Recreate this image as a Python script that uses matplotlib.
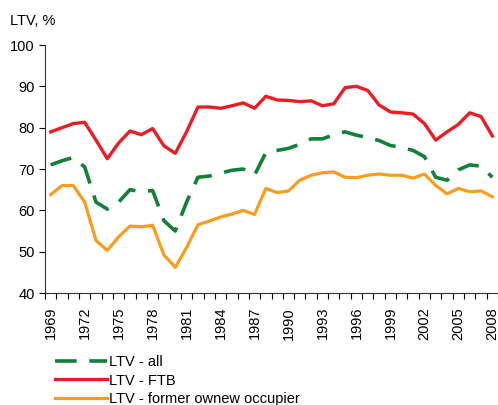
import matplotlib
matplotlib.use("Agg")
import matplotlib.pyplot as plt

plt.rcParams['font.family'] = ['Liberation Sans', 'DejaVu Sans']

years = list(range(1969, 2009))

ltv_all = [71, 72, 72.8, 70.5, 62, 60.3, 62, 65, 64.5, 64.8,
           57.5, 55, 62, 68, 68.3, 69, 69.7, 70, 68.5, 74,
           74.5, 75, 76, 77.3, 77.3, 78.3, 79, 78.2, 77.6, 76.9,
           75.7, 75.2, 74.5, 73, 68, 67.3, 69.8, 71, 70.7, 68]

ltv_ftb = [79, 80, 81, 81.3, 77, 72.5, 76.3, 79.2, 78.3, 79.8,
           75.6, 73.8, 79, 85, 85, 84.7, 85.3, 86, 84.7, 87.6,
           86.7, 86.6, 86.3, 86.5, 85.3, 85.8, 89.7, 90, 89, 85.5,
           83.8, 83.6, 83.3, 81, 77, 79, 80.8, 83.6, 82.7, 78]

ltv_former = [63.8, 66, 66, 62, 52.7, 50.3, 53.6, 56.2, 56, 56.4,
              49.2, 46.2, 51, 56.5, 57.4, 58.4, 59.1, 60, 59, 65.3,
              64.3, 64.7, 67.3, 68.5, 69.1, 69.3, 68, 67.9, 68.5, 68.8,
              68.5, 68.5, 67.8, 68.8, 66, 64, 65.3, 64.5, 64.7, 63.3]

labels = ["LTV - all", "LTV - FTB", "LTV - former ownew occupier"]

fig = plt.figure(figsize=(4.98, 4.05), dpi=100)
ax = fig.add_axes([0.0904, 0.2765, 0.9096, 0.6123])

ax.plot(years, ltv_all, color='#13803A', lw=2.6, dashes=(6, 3.5), label=labels[0])
ax.plot(years, ltv_ftb, color='#ED1C24', lw=2.4, label=labels[1])
ax.plot(years, ltv_former, color='#F99D1C', lw=2.3, label=labels[2])

ax.set_xlim(1968.5, 2008.5)
ax.set_ylim(40, 100)
ax.set_yticks(range(40, 101, 10))
ax.set_xticks(years[::3])
ax.set_xticklabels([str(y) for y in years[::3]], rotation=90)
ax.set_xticks([y + 0.5 for y in years[:-1]] + [1968.5, 2008.5], minor=True)
ax.tick_params(axis='x', which='major', length=0, pad=10, labelsize=10.5)
ax.tick_params(axis='x', which='minor', length=4, direction='out', width=0.8)
ax.tick_params(axis='y', length=4, direction='out', width=0.8, labelsize=10.5)

for s in ['top', 'right']:
    ax.spines[s].set_visible(False)
for s in ['left', 'bottom']:
    ax.spines[s].set_linewidth(0.8)
    ax.spines[s].set_color('#333333')

fig.text(0.02, 0.948, "LTV, %", fontsize=10.5, va='center')

ax.legend(loc='upper left', bbox_to_anchor=(0.11, 0.123), bbox_transform=fig.transFigure,
          frameon=False, fontsize=10.5, handlelength=3.6, handletextpad=0.1,
          labelspacing=0.3, borderaxespad=0, borderpad=0)

fig.savefig("out.png", dpi=100)
